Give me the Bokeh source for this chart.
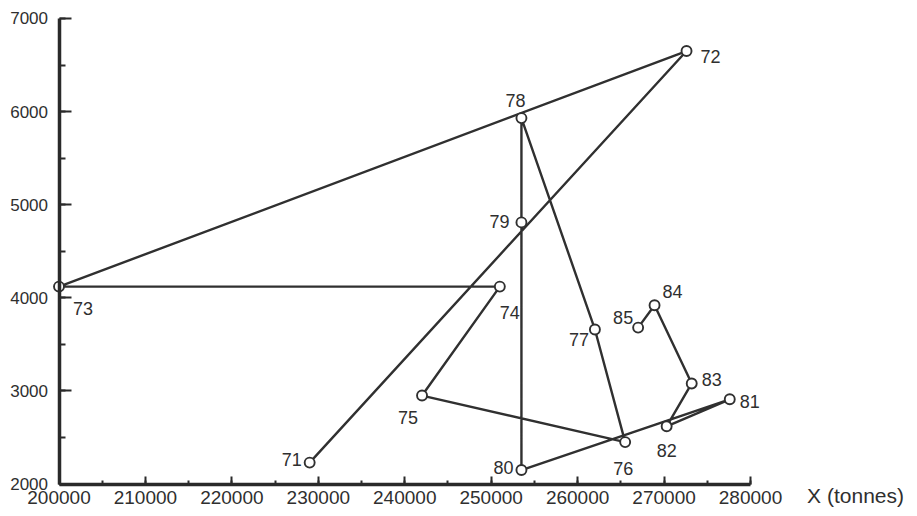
from bokeh.plotting import figure
from bokeh.models import Range1d, SingleIntervalTicker, ColumnDataSource, Label, BasicTickFormatter
from bokeh.embed import file_html
from bokeh.resources import INLINE
from bokeh.core.properties import value

# ---- data ----
years = ["71", "72", "73", "74", "75", "76", "77", "78", "79", "80", "81", "82", "83", "84", "85"]
x_tonnes = [229000, 272600, 200000, 251000, 242000, 265500, 262000, 253500, 253500, 253500,
            277600, 270300, 273200, 268900, 267000]
y_values = [2230, 6650, 4120, 4120, 2950, 2450, 3660, 5930, 4810, 2150,
            2910, 2620, 3080, 3920, 3680]
x_tick_interval = 10000
y_tick_interval = 1000
x_axis_label = "X (tonnes)"

# label offsets (screen px) for the year labels
label_dx = [-18, 24, 24, 10, -14, -2, -16, -6, -22, -18, 20, 0, 20, 18, -15]
label_dy = [-3, 5, 22, 26, 22, 26, 10, -18, -1, -3, 2, 24, -4, -14, -10]

FONT = "Liberation Sans"
INK = "#2f2f2f"
LINE = "#303030"

src = ColumnDataSource(dict(x=x_tonnes, y=y_values, year=years, dx=label_dx, dy=label_dy))

p = figure(frame_width=909, frame_height=508,
           x_range=Range1d(193232, 298395), y_range=Range1d(1737, 7193),
           output_backend="svg", toolbar_location=None,
           min_border_left=0, min_border_right=0, min_border_top=0, min_border_bottom=0)
p.grid.visible = False
p.outline_line_color = None
p.background_fill_color = "white"
p.border_fill_color = "white"

# axes at fixed data positions
for ax, loc, bnds, step, tin, minin, standoff, fs in (
        (p.xaxis[0], 2000, (200000, 280000), x_tick_interval, 8, 4, 7, "19px"),
        (p.yaxis[0], 200000, (2000, 7000), y_tick_interval, 12, 6, 11, "17px")):
    ax.fixed_location = loc
    ax.bounds = bnds
    ax.ticker = SingleIntervalTicker(interval=step, num_minor_ticks=2)
    ax.formatter = BasicTickFormatter(use_scientific=False)
    ax.axis_line_width = 3.5
    ax.axis_line_color = "#2a2a2a"
    ax.major_tick_in = tin
    ax.major_tick_out = 0
    ax.minor_tick_in = minin
    ax.minor_tick_out = 0
    ax.major_tick_line_width = 2
    ax.minor_tick_line_width = 2
    ax.major_tick_line_color = "#2a2a2a"
    ax.minor_tick_line_color = "#2a2a2a"
    ax.major_label_text_font = FONT
    ax.major_label_text_font_size = fs
    ax.major_label_text_color = INK
    ax.major_label_standoff = standoff

# connected path and points
p.line("x", "y", source=src, line_color=LINE, line_width=2.4)
p.scatter("x", "y", source=src, marker="circle", size=10, fill_color="white",
          line_color=LINE, line_width=1.9)

# year labels
p.text("x", "y", text="year", source=src, x_offset="dx", y_offset="dy",
       text_align="center", text_baseline="middle", text_font=value(FONT),
       text_font_size="18px", text_color=INK)

p.add_layout(Label(x=286550, y=1880, text=x_axis_label, text_align="left",
                   text_baseline="middle", text_font=FONT, text_font_size="21px",
                   text_color=INK))

open("out.html", "w").write(file_html(p, INLINE))
